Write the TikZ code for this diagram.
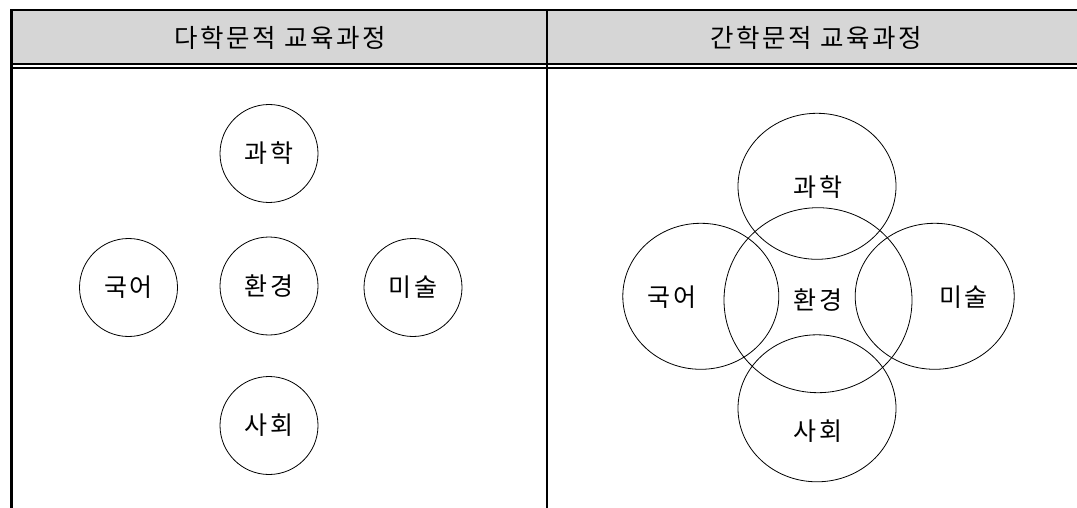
\documentclass[tikz,border=0pt]{standalone}
\usepackage{fontspec}
\newfontfamily\krfont[LetterSpace=10]{Noto Sans CJK KR}
\usetikzlibrary{shapes.geometric}
\definecolor{headgray}{HTML}{D6D6D6}
\tikzset{
  subj/.style={circle,draw,line width=0.8pt,minimum size=98pt,inner sep=0pt,
    font=\krfont\fontsize{25}{29}\selectfont},
  ring/.style={ellipse,draw,line width=0.8pt,inner sep=0pt},
  lbl/.style={inner sep=0pt,font=\krfont\fontsize{25}{29}\selectfont},
  head/.style={inner sep=0pt,font=\krfont\fontsize{25.5}{29}\selectfont},
}
\begin{document}
\begin{tikzpicture}[x=1pt,y=-1pt]
\useasboundingbox (0,0) rectangle (1077,508);
% header
\fill[headgray] (10,10) rectangle (1077,64);
\draw[line width=2pt] (10,10.5) -- (1077,10.5);
\draw[line width=1.8pt] (10,64) -- (1077,64);
\draw[line width=1.2pt] (10,68) -- (1077,68);
\draw[line width=3pt] (11.5,9.5) -- (11.5,508);
\draw[line width=1.6pt] (546.8,10) -- (546.8,508);
\node[head] (h1) at (280,37.5) {다학문적 교육과정};
\node[head] (h2) at (816,37.5) {간학문적 교육과정};
% left: multidisciplinary
\node[subj] (ls) at (269,153.5) {과학};
\node[subj] (le) at (269,286) {환경};
\node[subj] (lk) at (128.5,287.5) {국어};
\node[subj] (la) at (413,287.5) {미술};
\node[subj] (lo) at (269,425.5) {사회};
% right: interdisciplinary
\node[ring,minimum width=158pt,minimum height=146pt] (rs) at (817,186.3) {};
\node[ring,minimum width=188pt,minimum height=185pt] (re) at (818,300.2) {};
\node[ring,minimum width=156pt,minimum height=146pt] (rk) at (700.8,296.3) {};
\node[ring,minimum width=159pt,minimum height=146pt] (ra) at (934.7,296.3) {};
\node[ring,minimum width=158pt,minimum height=147pt] (ro) at (817,408.3) {};
\node[lbl] (ts) at (818,187) {과학};
\node[lbl] (te) at (818,300) {환경};
\node[lbl] (tk) at (672,297.5) {국어};
\node[lbl] (ta) at (963.5,297.5) {미술};
\node[lbl] (to) at (818,431.5) {사회};
\end{tikzpicture}
\end{document}
